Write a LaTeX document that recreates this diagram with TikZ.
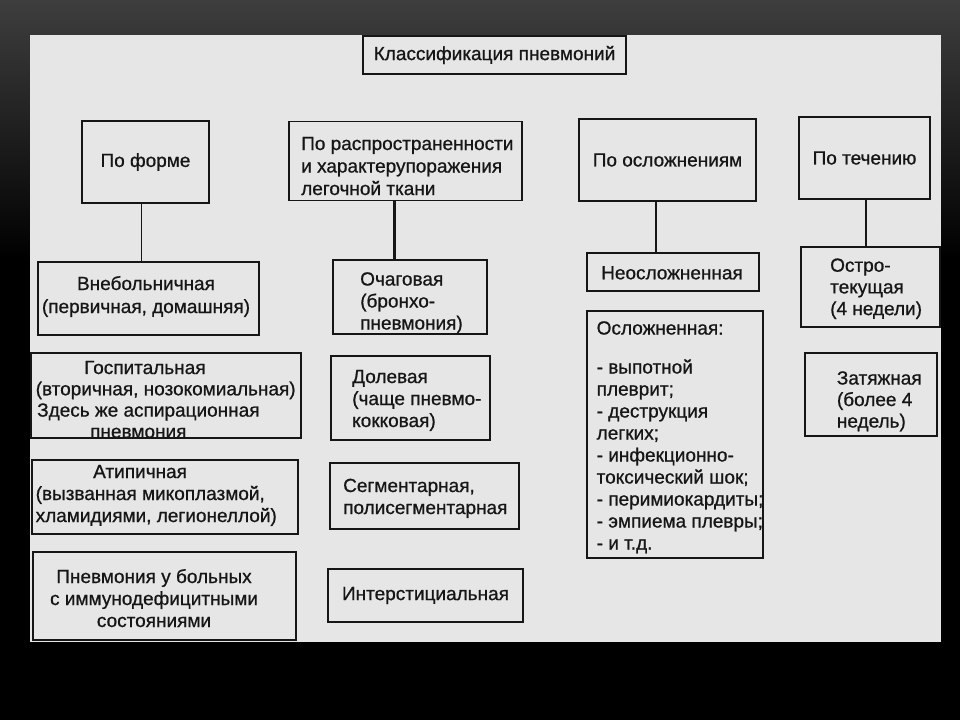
\documentclass[tikz,border=0pt]{standalone}
\usepackage{fontspec}
\setmainfont{Liberation Sans}[FakeBold=0.8]
\usetikzlibrary{calc}
\definecolor{panel}{RGB}{230,230,230}
\definecolor{ink}{RGB}{22,22,22}
\definecolor{bgtop}{RGB}{62,62,62}
\begin{document}
\begin{tikzpicture}[x=1pt,y=-1pt,
  cbox/.style={draw=ink, line width=1.7pt, fill=panel, inner sep=0pt,
    font=\fontsize{19}{22}\selectfont, text=ink},
  txt/.style={inner sep=0pt, anchor=base west,
    font=\fontsize{19}{#1}\selectfont, text=ink},
  txt/.default=22,
  conn/.style={draw=ink, line width=2.2pt}]
\useasboundingbox (0,0) rectangle (960,720);
% background
\fill[black] (0,0) rectangle (960,720);
\shade[top color=bgtop, bottom color=black] (0,0) rectangle (960,260);
\fill[panel] (30,35) rectangle (941,642);

% title
\node[cbox, minimum width=263pt, minimum height=38pt] (title) at (494.5,55) {Классификация пневмоний};

% row 1
\node[cbox, minimum width=127pt, minimum height=82pt] (f1) at (145.5,162) {По форме};
\node[cbox, minimum width=233pt, minimum height=79pt] (f2) at (405.5,161) {};
\node[txt=22.5] (f2t) at (301,150) {\begin{tabular}[t]{@{}l@{}}По распространенности\\и характерупоражения\\легочной ткани\end{tabular}};
\node[cbox, minimum width=177pt, minimum height=82pt] (f3) at (667.5,160) {По осложнениям};
\node[cbox, minimum width=131pt, minimum height=82pt] (f4) at (864.5,158) {По течению};

% column 1
\node[cbox, minimum width=221pt, minimum height=73pt] (a1) at (148.5,298.5) {};
\node[txt, anchor=base] (a1t) at (146,290) {\begin{tabular}[t]{@{}c@{}}Внебольничная\\[1pt](первичная, домашняя)\end{tabular}};

\node[cbox, minimum width=270pt, minimum height=85pt] (a2) at (166,395.5) {};
\node[txt=21.3] (a2t) at (35.5,374) {\begin{tabular}[t]{@{}l@{}}\hspace*{48.5pt}Госпитальная\\(вторичная, нозокомиальная)\\\hspace*{1.5pt}Здесь же аспирационная\\\hspace*{54.5pt}пневмония\end{tabular}};

\node[cbox, minimum width=266pt, minimum height=74pt] (a3) at (165,497) {};
\node[txt] (a3t) at (35.5,478) {\begin{tabular}[t]{@{}l@{}}\hspace*{57.5pt}Атипичная\\(вызванная микоплазмой,\\хламидиями, легионеллой)\end{tabular}};

\node[cbox, minimum width=263pt, minimum height=88pt] (a4) at (164.5,596) {};
\node[txt, anchor=base] (a4t) at (154,583) {\begin{tabular}[t]{@{}c@{}}Пневмония у больных\\с иммунодефицитными\\состояниями\end{tabular}};

% column 2
\node[cbox, minimum width=154pt, minimum height=74pt] (b1) at (410,297) {};
\node[txt] (b1t) at (360,285.5) {\begin{tabular}[t]{@{}l@{}}Очаговая\\(бронхо-\\пневмония)\end{tabular}};

\node[cbox, minimum width=159pt, minimum height=84pt] (b2) at (410.5,398) {};
\node[txt] (b2t) at (352,383) {\begin{tabular}[t]{@{}l@{}}Долевая\\(чаще пневмо-\\кокковая)\end{tabular}};

\node[cbox, minimum width=189pt, minimum height=66pt] (b3) at (424.5,496) {};
\node[txt] (b3t) at (343,492) {\begin{tabular}[t]{@{}l@{}}Сегментарная,\\полисегментарная\end{tabular}};

\node[cbox, minimum width=195pt, minimum height=53pt] (b4) at (425.5,595.5) {Интерстициальная};

% column 3
\node[cbox, minimum width=172pt, minimum height=38pt] (c1) at (673,272) {};
\node[txt] (c1t) at (601,279.3) {Неосложненная};
\node[cbox, minimum width=176pt, minimum height=247pt] (c2) at (675,434.5) {};
\node[txt=22] (c2t) at (596.5,334.5) {\begin{tabular}[t]{@{}l@{}}Осложненная:\\[17pt]- выпотной\\плеврит;\\- деструкция\\легких;\\- инфекционно-\\токсический шок;\\- перимиокардиты;\\- эмпиема плевры;\\- и т.д.\end{tabular}};

% column 4
\node[cbox, minimum width=139pt, minimum height=80pt] (d1) at (870.5,287) {};
\node[txt=21.7] (d1t) at (830,271.7) {\begin{tabular}[t]{@{}l@{}}Остро-\\текущая\\(4 недели)\end{tabular}};
\node[cbox, minimum width=132pt, minimum height=83pt] (d2) at (871,394.5) {};
\node[txt=21.5] (d2t) at (836.7,384.5) {\begin{tabular}[t]{@{}l@{}}Затяжная\\(более 4\\недель)\end{tabular}};

% connectors
\coordinate (k1) at (141.5,0);
\coordinate (k2) at (394,0);
\coordinate (k3) at (656,0);
\coordinate (k4) at (866,0);
\draw[conn, line width=1.1pt] (f1.south -| k1) -- (a1.north -| k1);
\draw[conn, line width=3pt] (f2.south -| k2) -- (b1.north -| k2);
\draw[conn] (f3.south -| k3) -- (c1.north -| k3);
\draw[conn, line width=2.6pt] (f4.south -| k4) -- (d1.north -| k4);
\end{tikzpicture}
\end{document}
